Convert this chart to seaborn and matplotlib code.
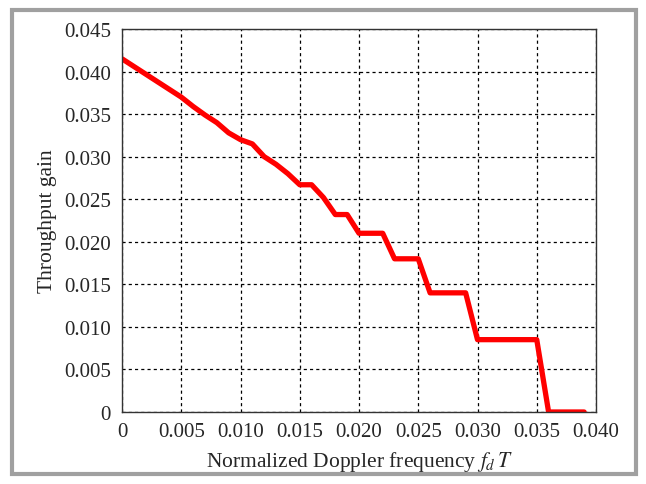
import numpy as np
import pandas as pd
import seaborn as sns
from matplotlib import pyplot as plt
from matplotlib.patches import Rectangle

# values
doppler = [0.000, 0.001, 0.002, 0.003, 0.004, 0.005, 0.006, 0.007, 0.008,
           0.009, 0.010, 0.011, 0.012, 0.013, 0.014, 0.015, 0.016, 0.017,
           0.018, 0.019, 0.020, 0.022, 0.023, 0.025, 0.026, 0.029, 0.030,
           0.035, 0.036, 0.039]
gain = [0.0415, 0.0406, 0.0397, 0.0388, 0.0379, 0.0370, 0.0359, 0.0349, 0.0340,
        0.0328, 0.0320, 0.0315, 0.0300, 0.0291, 0.0280, 0.0267, 0.0267, 0.0252,
        0.0232, 0.0232, 0.0210, 0.0210, 0.0180, 0.0180, 0.0140, 0.0140, 0.0085,
        0.0085, 0.0000, 0.0000]
xticks = [0, 0.005, 0.010, 0.015, 0.020, 0.025, 0.030, 0.035, 0.040]
xticklabels = ['0', '0.005', '0.010', '0.015', '0.020', '0.025', '0.030', '0.035', '0.040']
yticks = [0, 0.005, 0.010, 0.015, 0.020, 0.025, 0.030, 0.035, 0.040, 0.045]
yticklabels = ['0', '0.005', '0.010', '0.015', '0.020', '0.025', '0.030', '0.035', '0.040', '0.045']

df = pd.DataFrame({'fdT': doppler, 'gain': gain})

sns.set_style('white')
plt.rcParams['font.family'] = ['Liberation Serif', 'DejaVu Serif']
plt.rcParams['mathtext.fontset'] = 'stix'

fig = plt.figure(figsize=(6.46, 4.85), dpi=100)
ax = fig.add_axes([122 / 646, 1 - 413 / 485, 474 / 646, 383 / 485])

sns.lineplot(data=df, x='fdT', y='gain', color='#ff0000', linewidth=3.8, ax=ax)

ax.set_xlim(0, 0.040)
ax.set_ylim(0, 0.045)
ax.set_xticks(xticks)
ax.set_xticklabels(xticklabels)
ax.set_yticks(yticks)
ax.set_yticklabels(yticklabels)
ax.tick_params(labelsize=15, direction='in', length=3, color='#333333')
ax.tick_params(axis='x', pad=7)
ax.tick_params(axis='y', pad=8)
ax.grid(True, color='black', linestyle=(0, (2.5, 2.5)), linewidth=0.9)
for s in ax.spines.values():
    s.set_color('#333333')
    s.set_linewidth(1.0)

ax.set_xlabel('Normalized Doppler frequency $f_d\\,T$', fontsize=15.5, labelpad=6)
ax.set_ylabel('Throughput gain', fontsize=15.5, labelpad=5)

# grey frame around the picture
fig.patches.append(Rectangle((12 / 646, 10 / 485), 624 / 646, 464 / 485,
                             transform=fig.transFigure, fill=False,
                             edgecolor='#a0a0a0', linewidth=3))

plt.savefig('out.png', dpi=100)
plt.close()
